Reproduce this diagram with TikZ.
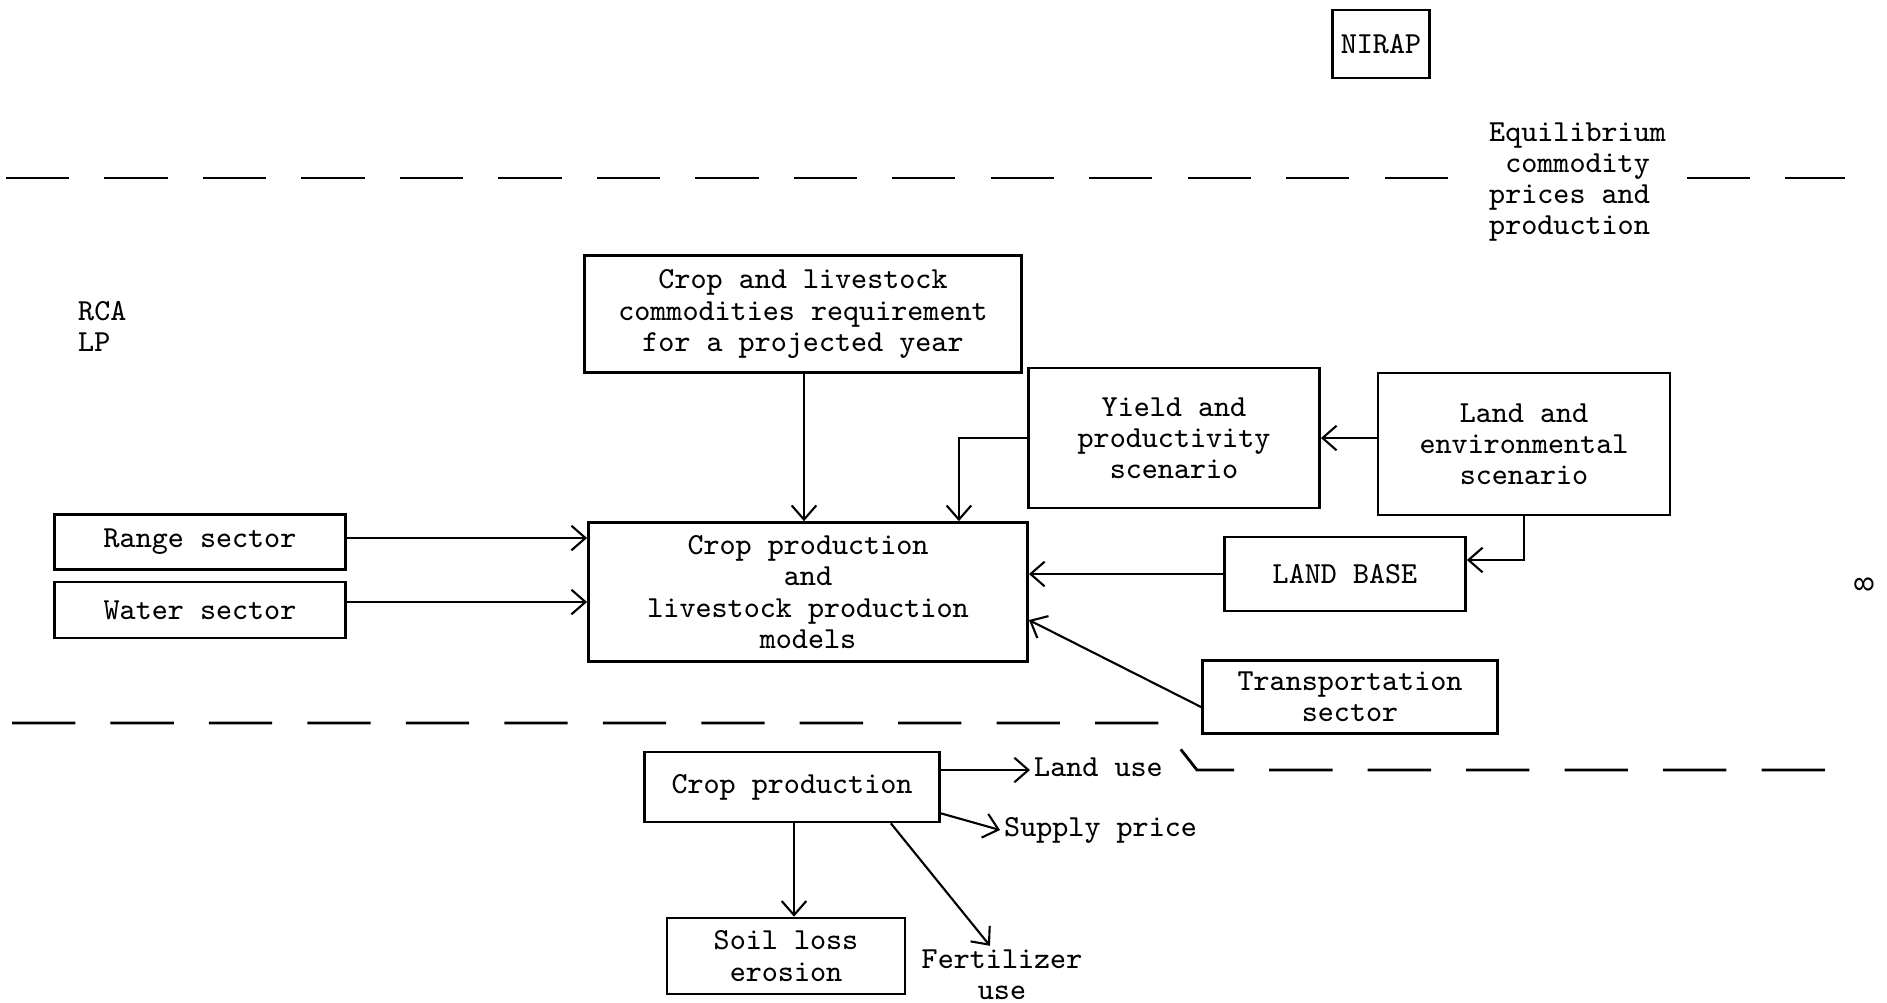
\documentclass[tikz,border=0pt]{standalone}
\usepackage{amsmath,amssymb}
\usetikzlibrary{arrows.meta}
\begin{document}
\begin{tikzpicture}[x=0.01cm,y=-0.01cm,font=\ttfamily\fontsize{8.7}{8.85}\selectfont]
\tikzstyle{Box}=[draw,line width=0.75pt,align=center,inner sep=1pt]
\tikzstyle{Label}=[align=center,inner sep=1pt]
\useasboundingbox (0,0) rectangle (1887,1002);

\node[Box,minimum width=0.97cm,minimum height=0.68cm] (nirap) at (1381,44) {NIRAP};
\node[Label,align=left,anchor=west] (equil) at (1485,182) {Equilibrium\\\phantom{x}commodity\\prices and\\production};
\node[Label,align=left,anchor=west] (rca) at (74,326) {RCA\\LP};

\node[Box,minimum width=4.37cm,minimum height=1.17cm] (req) at (803,314) {Crop and livestock\\commodities requirement\\for a projected year};
\node[Box,minimum width=2.91cm,minimum height=1.40cm] (yield) at (1174,438) {Yield and\\productivity\\scenario};
\node[Box,minimum width=2.92cm,minimum height=1.42cm] (landenv) at (1524,444) {Land and\\environmental\\scenario};

\node[Box,minimum width=2.91cm,minimum height=0.55cm] (range) at (200,542) {Range sector};
\node[Box,minimum width=2.91cm,minimum height=0.56cm] (water) at (200,610) {Water sector};
\node[Box,minimum width=4.39cm,minimum height=1.39cm] (main) at (808,592) {Crop production\\and\\livestock production\\models};
\node[Box,minimum width=2.41cm,minimum height=0.74cm] (landbase) at (1345,574) {LAND BASE};
\node[Box,minimum width=2.95cm,minimum height=0.73cm] (transport) at (1350,697) {Transportation\\sector};

\node[Box,minimum width=2.95cm,minimum height=0.70cm] (crop) at (792,787) {Crop production};
\node[Label,anchor=west] (landuse) at (1030,767) {Land use};
\node[Label,anchor=west] (supply) at (1000,830) {Supply price};
\node[Box,minimum width=2.38cm,minimum height=0.76cm] (soil) at (786,956) {Soil loss\\erosion};
\node[Label] (fert) at (1002,975) {Fertilizer\\use};

\node[Label,rotate=90] (page) at (1864,584) {8};

\tikzstyle{Border}=[line width=0.8pt,dash pattern=on 18pt off 10pt]
\draw[Border] (6,178) -- (1465,178);
\draw[Border] (1687,178) -- (1845,178);
\draw[Border] (12,723) -- (1160,723) -- (1197,770) -- (1860,770);

\tikzstyle{EdgeStyle}=[line width=0.6pt,-{Straight Barb[length=4pt,width=7pt]}]
\draw[EdgeStyle] (req.south -| 804,0) -- (main.north -| 804,0);
\draw[EdgeStyle] (yield.west) -| ([xshift=-0.7cm]main.north east);
\draw[EdgeStyle] (yield.east -| landenv.west) -- (yield.east);
\draw[EdgeStyle] (landenv.south) |- ([yshift=0.14cm]landbase.east);
\draw[EdgeStyle] (landbase.west) -- (landbase.west -| main.east);
\draw[EdgeStyle] ([yshift=-0.1cm]transport.west) -- ([yshift=-0.28cm]main.east);
\draw[EdgeStyle] ([yshift=0.04cm]range.east) -- ([yshift=0.04cm]range.east -| main.west);
\draw[EdgeStyle] ([yshift=0.08cm]water.east) -- ([yshift=0.08cm]water.east -| main.west);

\draw[EdgeStyle] ([yshift=0.17cm]crop.east) -- ([yshift=0.17cm]crop.east -| landuse.west);
\draw[EdgeStyle] ([yshift=0.1cm]crop.south east) -- (supply.west);
\draw[EdgeStyle] (crop.south -| 794,0) -- (soil.north -| 794,0);
\draw[EdgeStyle] ([xshift=-0.5cm]crop.south east) -- ([xshift=-0.12cm]fert.north);

\end{tikzpicture}
\end{document}
